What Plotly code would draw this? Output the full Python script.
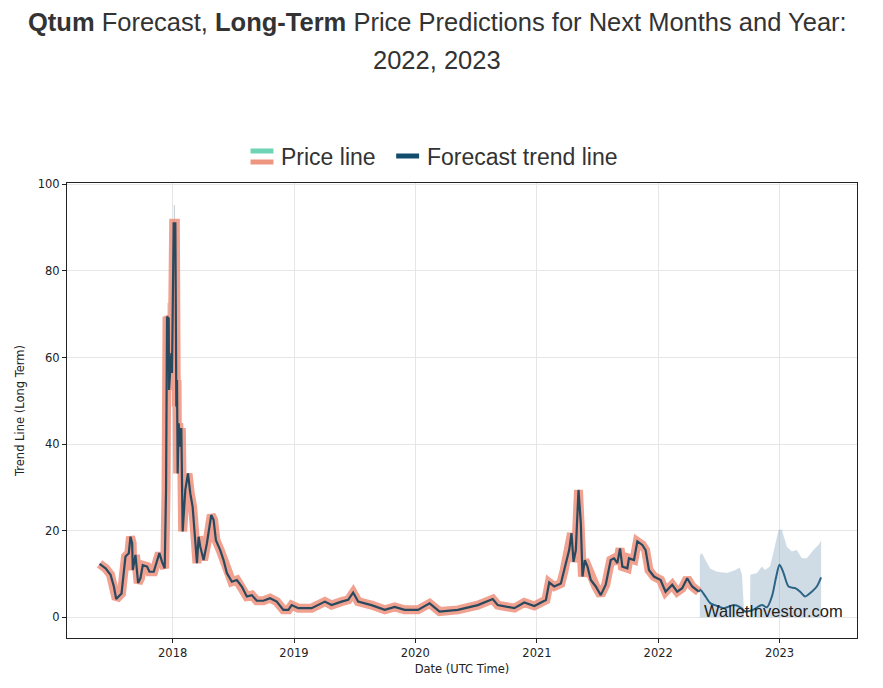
import plotly.graph_objects as go

# ---------------- data ----------------
price_dates = [
    "2017-05-26", "2017-06-13", "2017-06-28", "2017-07-08", "2017-07-15", "2017-07-31",
    "2017-08-07", "2017-08-12", "2017-08-22", "2017-08-27", "2017-09-01", "2017-09-03",
    "2017-09-11", "2017-09-19", "2017-09-26", "2017-10-03", "2017-10-16", "2017-10-23",
    "2017-11-05", "2017-11-15", "2017-11-22", "2017-11-30", "2017-12-08", "2017-12-12",
    "2017-12-15", "2017-12-20", "2017-12-21", "2017-12-28", "2017-12-30", "2018-01-04",
    "2018-01-09", "2018-01-12", "2018-01-14", "2018-01-16", "2018-01-19", "2018-01-24",
    "2018-01-27", "2018-01-31", "2018-02-08", "2018-02-16", "2018-02-23", "2018-03-02",
    "2018-03-10", "2018-03-15", "2018-03-20", "2018-03-25", "2018-04-04", "2018-04-14",
    "2018-04-27", "2018-05-04", "2018-05-11", "2018-05-24", "2018-06-03", "2018-06-13",
    "2018-06-28", "2018-07-13", "2018-07-28", "2018-08-12", "2018-08-27", "2018-09-11",
    "2018-10-01", "2018-10-21", "2018-11-10", "2018-11-30", "2018-12-15", "2018-12-25",
    "2019-01-14", "2019-02-23", "2019-04-04", "2019-04-24", "2019-05-24", "2019-06-13",
    "2019-06-28", "2019-07-13", "2019-08-22", "2019-10-01", "2019-10-31", "2019-11-30",
    "2020-01-09", "2020-02-13", "2020-03-14", "2020-05-08", "2020-07-07", "2020-08-21",
    "2020-09-05", "2020-10-25", "2020-11-24", "2020-12-24", "2021-01-28", "2021-02-07",
    "2021-02-22", "2021-03-14", "2021-03-24", "2021-04-08", "2021-04-15", "2021-04-21",
    "2021-04-28", "2021-05-06", "2021-05-13", "2021-05-18", "2021-05-25", "2021-06-02",
    "2021-06-12", "2021-06-27", "2021-07-12", "2021-07-27", "2021-08-11", "2021-08-21",
    "2021-08-31", "2021-09-08", "2021-09-15", "2021-09-30", "2021-10-05", "2021-10-20",
    "2021-10-30", "2021-11-14", "2021-11-24", "2021-12-04", "2021-12-19", "2022-01-08",
    "2022-01-23", "2022-02-12", "2022-02-27", "2022-03-14", "2022-03-29", "2022-04-13",
    "2022-05-03",
]
price_values = [
    12.3, 11.3, 9.8, 7.1, 4.2, 5.5,
    10.5, 14.0, 14.8, 18.6, 17.1, 10.9,
    14.4, 7.9, 9.0, 12.0, 11.7, 10.5,
    10.5, 12.8, 14.8, 12.8, 11.3, 29.4,
    69.4, 69.0, 52.5, 61.0, 56.4, 91.0,
    91.0, 48.6, 54.8, 33.2, 44.8, 39.4,
    43.7, 19.8, 29.4, 33.2, 28.6, 25.5,
    17.8, 12.5, 18.6, 16.3, 13.2, 17.1,
    23.6, 22.5, 17.8, 15.5, 13.2, 10.2,
    8.2, 8.6, 7.1, 4.8, 5.1, 3.8,
    3.8, 4.4, 3.6, 1.7, 1.7, 2.8,
    2.1, 2.1, 3.6, 2.8, 3.6, 4.0,
    5.7, 3.6, 2.8, 1.7, 2.4, 1.7,
    1.7, 3.2, 1.3, 1.7, 2.8, 4.2,
    2.8, 2.1, 3.4, 2.6, 4.0, 8.0,
    7.1, 7.8, 10.9, 15.5, 19.4, 12.8,
    15.5, 29.4, 21.7, 9.4, 13.2, 11.7,
    8.6, 7.1, 5.1, 7.5, 13.2, 13.6,
    12.5, 15.9, 11.7, 11.3, 13.6, 13.2,
    17.5, 16.7, 15.5, 10.9, 9.4, 8.6,
    5.9, 7.5, 5.9, 6.7, 9.0, 7.1,
    5.9,
]

spike_dates = ["2017-12-18", "2018-01-06"]
spike_low = [69.0, 91.0]
spike_high = [72.6, 95.2]

forecast_dates = [
    "2022-05-03", "2022-05-08", "2022-05-23", "2022-06-07", "2022-06-27", "2022-07-17",
    "2022-08-16", "2022-09-05", "2022-09-20", "2022-10-10", "2022-11-09", "2022-11-24",
    "2022-12-09", "2022-12-22", "2023-01-01", "2023-01-13", "2023-01-28", "2023-02-17",
    "2023-03-04", "2023-03-19", "2023-04-08", "2023-04-23", "2023-05-06",
]
forecast_values = [
    5.9, 6.3, 4.8, 3.2, 2.6, 2.1,
    2.8, 2.3, 1.3, 1.6, 2.8, 2.3,
    4.8, 9.4, 12.1, 10.2, 7.1, 6.7,
    5.9, 4.8, 5.9, 7.1, 9.2,
]

band_dates = [
    "2022-05-06", "2022-05-13", "2022-05-23", "2022-06-07", "2022-06-27", "2022-07-27",
    "2022-08-21", "2022-09-03", "2022-09-10", "2022-09-17", "2022-10-04", "2022-10-05",
    "2022-10-25", "2022-11-09", "2022-11-18", "2022-12-03", "2022-12-13", "2022-12-29",
    "2023-01-08", "2023-01-23", "2023-02-07", "2023-02-22", "2023-03-09", "2023-03-24",
    "2023-04-13", "2023-04-28", "2023-05-06",
]
band_upper = [
    14.4, 14.8, 13.2, 11.2, 10.5, 10.2,
    10.9, 11.5, 9.8, 0.0, 0.0, 9.8,
    10.2, 11.7, 10.9, 11.7, 14.8, 20.2,
    20.2, 16.3, 15.2, 15.5, 13.6, 13.6,
    15.5, 16.7, 17.7,
]

year_ticks = ["2018-01-01", "2019-01-01", "2020-01-01", "2021-01-01", "2022-01-01", "2023-01-01"]
year_labels = ["2018", "2019", "2020", "2021", "2022", "2023"]
y_ticks = [0, 20, 40, 60, 80, 100]

# ---------------- styles ----------------
SALMON = "rgba(236,138,115,0.80)"
TEAL = "#6fd3b6"
DARK = "#29495e"
FC_BLUE = "#2d6486"
LEG_BLUE = "#134d6d"
TXT = "#333333"
AX_FONT = dict(family="DejaVu Sans", size=11.5, color="#222222")

fig = go.Figure()

# forecast confidence band (lower bound is zero)
fig.add_trace(go.Scatter(
    x=band_dates, y=band_upper, mode="lines", fill="tozeroy",
    line=dict(width=0), fillcolor="rgba(96,140,170,0.30)",
    hoverinfo="skip", showlegend=False,
))

# faint high spikes
spike_x, spike_y = [], []
for d, lo, hi in zip(spike_dates, spike_low, spike_high):
    spike_x += [d, d, None]
    spike_y += [lo, hi, None]
fig.add_trace(go.Scatter(
    x=spike_x, y=spike_y, mode="lines",
    line=dict(color="rgba(150,165,180,0.6)", width=1),
    hoverinfo="skip", showlegend=False,
))

# price line (thick salmon) + dark trend core
fig.add_trace(go.Scatter(
    x=price_dates, y=price_values, mode="lines",
    line=dict(color=SALMON, width=9), name="Price line", showlegend=False,
))
fig.add_trace(go.Scatter(
    x=price_dates, y=price_values, mode="lines",
    line=dict(color=DARK, width=2.2), showlegend=False, hoverinfo="skip",
))

# forecast trend line
fig.add_trace(go.Scatter(
    x=forecast_dates, y=forecast_values, mode="lines",
    line=dict(color=FC_BLUE, width=2, shape="spline", smoothing=0.8),
    name="Forecast trend line", showlegend=False,
))

# page body has an 8px margin -> offset figure so plot area lands at 65..857 / 183..638
OFF = 8
L, R, T, B = 65 - OFF, 26, 183 - OFF, 50
W, H = 883 - OFF, 688 - OFF
PW, PH = W - L - R, H - T - B


def px(xp):
    return (xp - OFF - L) / PW


def py(yp):
    return (H - B - (yp - OFF)) / PH


annotations = [
    dict(text="<b>Qtum</b> Forecast, <b>Long-Term</b> Price Predictions for Next Months and Year:",
         x=px(436), y=py(22), xref="paper", yref="paper", showarrow=False,
         xanchor="center", yanchor="middle",
         font=dict(family="Liberation Sans", size=25.5, color=TXT)),
    dict(text="2022, 2023",
         x=px(436), y=py(60), xref="paper", yref="paper", showarrow=False,
         xanchor="center", yanchor="middle",
         font=dict(family="Liberation Sans", size=25.5, color=TXT)),
    dict(text="Price line", x=px(278), y=py(157), xref="paper", yref="paper",
         showarrow=False, xanchor="left", yanchor="middle",
         font=dict(family="Liberation Sans", size=23, color=TXT)),
    dict(text="Forecast trend line", x=px(424), y=py(157), xref="paper", yref="paper",
         showarrow=False, xanchor="left", yanchor="middle",
         font=dict(family="Liberation Sans", size=23, color=TXT)),
    dict(text="WalletInvestor.com", x=px(702), y=py(611), xref="paper", yref="paper",
         showarrow=False, xanchor="left", yanchor="middle",
         font=dict(family="Liberation Sans", size=16.5, color="#222222")),
]

shapes = [
    dict(type="line", xref="paper", yref="paper", x0=px(249), x1=px(272), y0=py(151), y1=py(151),
         line=dict(color=TEAL, width=5)),
    dict(type="line", xref="paper", yref="paper", x0=px(249), x1=px(272), y0=py(162), y1=py(162),
         line=dict(color="#ee9580", width=5)),
    dict(type="line", xref="paper", yref="paper", x0=px(395), x1=px(418), y0=py(156), y1=py(156),
         line=dict(color=LEG_BLUE, width=5)),
]

fig.update_layout(
    width=W, height=H,
    margin=dict(l=L, r=R, t=T, b=B),
    paper_bgcolor="white", plot_bgcolor="white",
    showlegend=False,
    annotations=annotations,
    shapes=shapes,
    xaxis=dict(
        type="date", range=["2017-02-17", "2023-08-22"],
        tickvals=year_ticks, ticktext=year_labels,
        showgrid=True, gridcolor="#e6e6e6", gridwidth=1,
        showline=True, linecolor="#222222", linewidth=1.2, mirror=True,
        ticks="outside", ticklen=4, tickcolor="#222222",
        tickfont=AX_FONT, zeroline=False,
        title=dict(text="Date (UTC Time)", font=AX_FONT, standoff=6),
    ),
    yaxis=dict(
        range=[-4.8, 100.3], tickvals=y_ticks,
        showgrid=True, gridcolor="#e6e6e6", gridwidth=1,
        showline=True, linecolor="#222222", linewidth=1.2, mirror=True,
        ticks="outside", ticklen=4, tickcolor="#222222",
        tickfont=AX_FONT, zeroline=False,
        title=dict(text="Trend Line (Long Term)", font=AX_FONT, standoff=10),
    ),
)

fig.write_html("out.html")
